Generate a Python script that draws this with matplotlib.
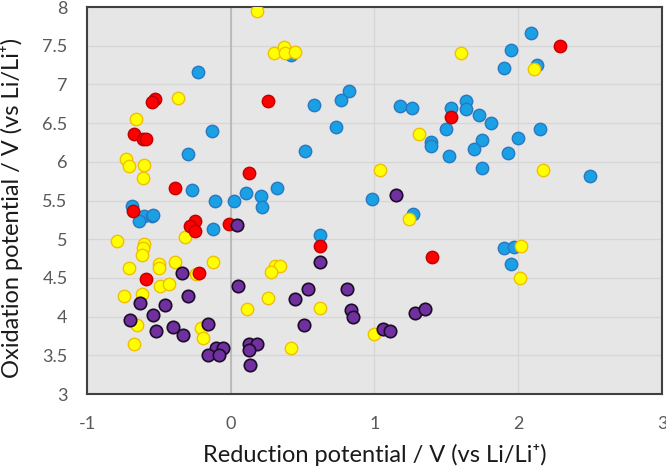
import matplotlib.pyplot as plt

plt.rcParams['font.family'] = ['Lato', 'DejaVu Sans']
plt.rcParams['axes.unicode_minus'] = False

# reduction potential (x), oxidation potential (y) per group
blue_x = [-0.23, -0.13, -0.30, -0.27, 0.32, 0.106, 0.21, 0.22, -0.107, 0.025, -0.69, -0.60, -0.64, -0.55, -0.54,
          -0.125, 0.42, 0.82, 0.77, 0.58, 0.73, 1.175, 1.26, 1.53, 1.64, 1.64, 1.495, 1.39, 1.39, 0.52, 1.52,
          2.09, 1.95, 1.90, 2.13, 1.73, 1.81, 2.15, 1.75, 1.69, 2.00, 1.93, 1.75, 2.50, 1.90, 1.97, 1.95,
          0.985, 1.27, 0.62]
blue_y = [7.16, 6.40, 6.10, 5.64, 5.66, 5.60, 5.56, 5.41, 5.49, 5.49, 5.43, 5.30, 5.24, 5.30, 5.31,
          5.13, 7.38, 6.92, 6.80, 6.73, 6.45, 6.72, 6.69, 6.70, 6.78, 6.68, 6.43, 6.26, 6.20, 6.14, 6.07,
          7.67, 7.44, 7.21, 7.25, 6.61, 6.50, 6.42, 6.28, 6.17, 6.31, 6.12, 5.92, 5.82, 4.89, 4.90, 4.68,
          5.52, 5.33, 5.06]

yellow_x = [0.18, 0.30, 0.37, 0.38, 0.45, -0.37, -0.66, -0.73, -0.71, -0.60, -0.61, -0.32, -0.79, -0.60,
            -0.61, -0.62, -0.71, -0.50, -0.50, -0.39, -0.12, -0.24, 0.31, 0.34, 0.28, -0.49, -0.43, -0.74,
            -0.62, -0.65, -0.21, -0.195, -0.67, 0.115, 0.26, 1.60, 1.31, 2.11, 2.17, 2.02, 2.01, 1.04, 1.24,
            0.62, 0.42, 1.00]
yellow_y = [7.95, 7.41, 7.48, 7.41, 7.42, 6.83, 6.55, 6.04, 5.95, 5.96, 5.79, 5.03, 4.98, 4.94,
            4.88, 4.80, 4.63, 4.68, 4.63, 4.71, 4.70, 4.55, 4.66, 4.65, 4.57, 4.40, 4.42, 4.27,
            4.29, 3.89, 3.85, 3.73, 3.65, 4.10, 4.24, 7.40, 6.36, 7.20, 5.90, 4.91, 4.50, 5.89, 5.26,
            4.11, 3.60, 3.77]

red_x = [0.26, -0.53, -0.55, -0.67, -0.61, -0.59, 0.125, -0.39, -0.68, -0.25, -0.28, -0.25, -0.01, -0.22,
         -0.59, 2.29, 1.53, 0.62, 1.40]
red_y = [6.78, 6.81, 6.77, 6.36, 6.30, 6.30, 5.86, 5.66, 5.37, 5.24, 5.17, 5.10, 5.20, 4.56,
         4.49, 7.50, 6.58, 4.91, 4.77]

purple_x = [0.046, -0.34, 0.05, -0.30, -0.63, -0.46, -0.54, -0.70, -0.52, -0.40, -0.33, -0.16, -0.10, -0.056,
            -0.16, -0.08, 0.13, 0.18, 0.13, 0.134, 1.15, 0.62, 0.54, 0.81, 0.45, 0.84, 0.85, 0.51, 1.06,
            1.11, 1.28, 1.35]
purple_y = [5.19, 4.56, 4.40, 4.27, 4.17, 4.15, 4.02, 3.96, 3.82, 3.86, 3.76, 3.90, 3.60, 3.60,
            3.50, 3.50, 3.65, 3.64, 3.57, 3.37, 5.57, 4.71, 4.36, 4.36, 4.23, 4.09, 4.00, 3.89, 3.84,
            3.82, 4.05, 4.10]

x_ticks = [-1, 0, 1, 2, 3]
y_ticks = [3, 3.5, 4, 4.5, 5, 5.5, 6, 6.5, 7, 7.5, 8]

fig = plt.figure(figsize=(6.66, 4.67), dpi=100)
ax = fig.add_axes([0.1306, 0.1563, 0.8634, 0.8287])
ax.set_facecolor('#e7e6e6')

ax.scatter(blue_x, blue_y, s=80, color='#1aa0e4', edgecolors='#2a78c0', linewidths=1, zorder=3)
ax.scatter(yellow_x, yellow_y, s=80, color='#ffff00', edgecolors='#f0c000', linewidths=1, zorder=4)
ax.scatter(red_x, red_y, s=80, color='#ff0000', edgecolors='#c00000', linewidths=1, zorder=5)
ax.scatter(purple_x, purple_y, s=80, color='#7030a0', edgecolors='#1c0c28', linewidths=1.2, zorder=6)

ax.set_xlim(-1, 3)
ax.set_ylim(3, 8)
ax.set_xticks(x_ticks)
ax.set_yticks(y_ticks)
ax.set_yticklabels([f'{v:g}' for v in y_ticks])
ax.grid(True, color='#d6d6d6', linewidth=0.9, zorder=0)
ax.set_axisbelow(True)
ax.axvline(0, color='#b5b5b5', linewidth=1.2, zorder=1)
ax.tick_params(length=0, labelsize=13, labelcolor='#595959')
ax.tick_params(axis='x', pad=16)
ax.tick_params(axis='y', pad=14)
for s in ax.spines.values():
    s.set_color('#404040')
    s.set_linewidth(1.5)

ax.set_xlabel('Reduction potential / V (vs Li/Li\u207a)', fontsize=17, color='#1a1a1a')
ax.set_ylabel('Oxidation potential / V (vs Li/Li\u207a)', fontsize=17, color='#1a1a1a')
ax.xaxis.label.set_va('center')
ax.yaxis.label.set_va('center')
ax.xaxis.set_label_coords(0.5, -0.158)
ax.yaxis.set_label_coords(-0.130, 0.48)

fig.savefig('out.png', dpi=100)
